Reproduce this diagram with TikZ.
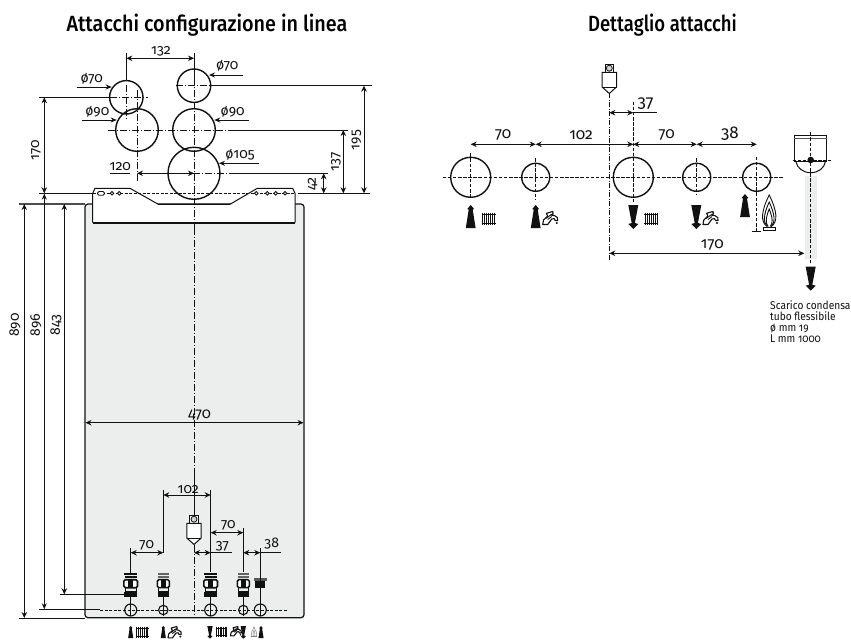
\documentclass[tikz,border=0pt]{standalone}
\usepackage{fontspec}
\setmainfont[Numbers=OldStyle]{Fira Sans}
\newfontfamily\titlefont[FakeStretch=0.9]{Fira Sans Medium}
\newfontfamily\titlefontb[FakeStretch=0.84]{Fira Sans Medium}
\newfontfamily\notefont[FakeStretch=0.9,Numbers=OldStyle]{Fira Sans}
\usetikzlibrary{arrows.meta}
\definecolor{panel}{HTML}{ECEEED}
\definecolor{ink}{HTML}{111111}
\tikzset{
  x=1pt,y=-1pt,
  line/.style={draw=ink,line width=1pt},
  ring/.style={draw=ink,line width=1.4pt},
  dim/.style={draw=ink,line width=1pt,{Stealth[length=6pt,width=5.5pt]}-{Stealth[length=6pt,width=5.5pt]}},
  onearrow/.style={draw=ink,line width=0.9pt,-{Stealth[length=6pt,width=5pt]}},
  centre/.style={draw=ink,line width=0.8pt,dash pattern=on 7pt off 2pt on 1pt off 2pt},
  fine/.style={draw=ink,line width=0.8pt,dash pattern=on 3.5pt off 1.6pt},
  lab/.style={inner sep=0pt,font=\fontsize{14}{15}\selectfont,text=ink},
  biglab/.style={inner sep=0pt,font=\fontsize{15.5}{16}\selectfont,text=ink},
  pics/uparrow/.style={code={
    \fill[ink] (0,0)--(3.4,4)--(2,4.6)--(4.9,23)--(-4.9,23)--(-2,4.6)--(-3.4,4)--cycle;}},
  pics/downarrow/.style={code={
    \fill[ink] (0,24)--(5,19)--(1.6,18)--(5,0)--(-5,0)--(-1.6,18)--(-5,19)--cycle;}},
  pics/radiator/.style={code={
    \foreach \u in {1,3,5,7,9,11,13}{\draw[ink,line width=.95pt] (\u,0)--(\u,12.5);}
    \draw[ink,line width=.8pt] (0,1.8)--(14,1.8) (0,10.5)--(14,10.5);}},
  pics/tap/.style={code={
    \draw[ink,line width=1.1pt,line join=round] (0,13)--(0.8,8.5)--(5,4.5)--(3.6,1.8)--(10,0)--(10.5,2.2)--(8,3.5)--(12,4.2)
      .. controls (15,5) and (15.4,7) .. (15,9)--(12.5,9) .. controls (12.5,7) and (11,6.5) .. (9,7.5)
      -- (5,13)--cycle;
    \draw[ink,line width=.9pt] (3,7)--(8,3.5) (5,8)--(9,5);
    \fill[ink] (14,11.5) circle (1.2);}},
  pics/flame/.style={code={
    \draw[ink,line width=.9pt] (-2,31.5) .. controls (-9,27) and (-8,16) .. (0,0) .. controls (8,16) and (9,27) .. (2,31.5);
    \draw[ink,line width=.9pt] (-2,31.5) .. controls (-6.5,27) and (-5.5,19) .. (0,7) .. controls (5.5,19) and (6.5,27) .. (2,31.5);
    \draw[ink,line width=.9pt] (-1,31.5) .. controls (-4,28) and (-3.5,23) .. (0,14) .. controls (3.5,23) and (4,28) .. (1,31.5);
    \draw[ink,line width=1pt] (-6,32) rectangle (6,35.4);}},
  pics/miniflame/.style={code={
    \draw[ink!55,line width=.5pt] (-2.4,9) .. controls (-3,5) and (-1.5,3) .. (0,0) .. controls (1.5,3) and (3,5) .. (2.4,9);
    \draw[ink!55,line width=.5pt] (-1,9) .. controls (-1.2,6) and (-.5,5) .. (0,3.5) .. controls (.5,5) and (1.2,6) .. (1,9);
    \draw[ink!55,line width=.5pt] (-2.6,9.3)--(2.6,9.3);}},
  pics/bigvalve/.style={code={
    \fill[ink] (-6.5,0) rectangle (6.5,2.3);
    \fill[ink] (-6.2,3.3) rectangle (6.2,5);
    \draw[ink,line width=1.6pt,rounded corners=1.5pt,fill=white] (-6.8,7) rectangle (6.8,15);
    \fill[ink] (-2.5,7) rectangle (2.5,15);
    \draw[ink,line width=1pt] (-5.5,15) rectangle (5.5,19);
    \fill[ink] (-6.5,19) rectangle (6.5,24);}},
  pics/smallvalve/.style={code={
    \fill[ink!65] (-5.5,0.5) rectangle (5.5,2.3);
    \fill[ink!65] (-5.2,3.3) rectangle (5.2,5);
    \draw[ink,line width=1.5pt,rounded corners=1.5pt,fill=white] (-6,7) rectangle (6,15);
    \fill[ink] (-2.2,7) rectangle (2.2,15);
    \draw[ink,line width=1pt] (-4.8,15) rectangle (4.8,19);
    \fill[ink] (-5.6,19) rectangle (5.6,24);}},
  pics/sensor/.style={code={
    \draw[ink,line width=.9pt,fill=white] (-4.2,0) rectangle (4.2,8.3);
    \draw[ink,line width=.8pt,fill=ink!18] (0,4.2) circle (3);
    \draw[ink,line width=1pt,fill=white] (-7.2,8.3)--(7.2,8.3)--(7.2,23)--(0,29.5)--(-7.2,23)--cycle;
    \draw[ink,line width=.9pt] (-7.2,23)--(7.2,23);}},
}
\begin{document}
\begin{tikzpicture}
\useasboundingbox (0,0) rectangle (851,642);
\fill[white] (0,0) rectangle (851,642);

% ---------- titles
\node[inner sep=0pt,font=\fontsize{22}{24}\titlefont,text=black] (t1) at (207,25) {Attacchi configurazione in linea};
\node[inner sep=0pt,font=\fontsize{22}{24}\titlefontb,text=black] (t2) at (662.5,25) {Dettaglio attacchi};

% ---------- boiler body
\draw[ink,line width=1.2pt,fill=panel,rounded corners=3pt] (85,204) rectangle (304,617.7);
% plate
\draw[ink,line width=1pt,fill=white,line join=round]
  (92.7,222.7)--(92.7,193.3)--(95,188.3)--(130,188.3)--(158.3,204.3)--(230,204.3)--(257.3,188.3)--(292.7,188.3)--(295,193.3)--(295,222.7);
\fill[ink] (92.7,221.5) rectangle (295,223.5);
\fill[ink] (92.7,222.7) rectangle (107,224);
\fill[ink] (283,222.7) rectangle (295,224);
% plate holes
\draw[fine,line width=.6pt,dash pattern=on 3pt off 1.5pt] (93,193.3)--(295,193.3);
\draw[ink,line width=.8pt,fill=white,rounded corners=1.5pt] (97.5,191.5) rectangle (104.5,195.2);
\foreach \u in {112,119.3,256.3,267.3,275.7,285}{\draw[ink,line width=.9pt,fill=white] (\u,193.3) circle (1.8);}

% ---------- top circles
\draw[ring] (126.3,97.3) circle (16.7);
\draw[ring] (137,130) circle (21.3);
\draw[ring] (194,85.7) circle (16.7);
\draw[ring] (194,130) circle (21.3);
\draw[ring] (194,173.3) circle (26);

% centre lines
\draw[line] (194,53)--(194,78);
\draw[centre] (194,78)--(194,222);
\draw[line] (194,222)--(194,228);
\draw[centre] (194,228)--(194,512);
\draw[line] (194,470)--(194,515);
\draw[centre] (194,545)--(194,615);
\draw[line] (126.3,60)--(126.3,81);
\draw[centre] (126.3,53)--(126.3,60);
\draw[centre] (126.3,85)--(126.3,120);
\draw[centre] (137,90)--(137,182);
\draw[centre] (176,85.7)--(212,85.7);
\draw[centre] (108,130)--(290,130);
\draw[centre] (110,97.3)--(148,97.3);
\draw[centre] (145,173.3)--(230,173.3);

% ---------- top dimension lines
\draw[line] (210,85.7)--(371.7,85.7);
\draw[line] (228,130)--(348,130);
\draw[line] (230,173.3)--(328,173.3);
\draw[line] (297.7,193.3)--(370,193.3);
\draw[line] (39.3,193.3)--(92.7,193.3);
\draw[line] (39.3,97.3)--(110,97.3);
\draw[line,draw=ink!75,line width=1.1pt] (19.3,204)--(85,204);
\draw[line] (110,173.3)--(130,173.3);

\draw[dim] (126.3,58.3)--(194,58.3);
\draw[dim] (44.3,97.3)--(44.3,193.3);
\draw[dim] (364,85.7)--(364,193.3);
\draw[dim] (343.3,130)--(343.3,193.3);
\draw[dim] (323.7,173.3)--(323.7,193.3);
\draw[dim] (137,173.3)--(194,173.3);
\draw[onearrow] (76.7,87)--(111.7,87);
\draw[onearrow] (82.3,120)--(116.7,120);
\draw[onearrow] (243,75)--(209,75);
\draw[onearrow] (249,120)--(214.3,120);
\draw[onearrow] (259,163.3)--(219,163.3);

\node[lab] (d132) at (161,51.5) {132};
\node[lab] (d70a) at (91.7,78.5) {ø70};
\node[lab] (d90a) at (97.3,111.5) {ø90};
\node[lab] (d70b) at (227.3,66) {ø70};
\node[lab] (d90b) at (232.7,111.5) {ø90};
\node[lab] (d105) at (240,155) {ø105};
\node[lab] (d120) at (120.3,167) {120};
\node[lab,rotate=90] (d170) at (36,150) {170};
\node[lab,rotate=90] (d195) at (356.5,140) {195};
\node[lab,rotate=90] (d137) at (336,161.7) {137};
\node[lab,rotate=90] (d42) at (312.7,184) {42};

% ---------- left long dimensions
\draw[line] (19.3,618)--(85,618);
\draw[line] (39.3,609.3)--(100,609.3);
\draw[line] (60,594.3)--(126,594.3);
\draw[dim] (24.3,204)--(24.3,618);
\draw[onearrow,{Stealth[length=6pt,width=5pt]}-{Stealth[length=6pt,width=5pt]}] (44.3,193.6)--(44.3,609.3);
\draw[dim] (64.3,204)--(64.3,594.3);
\node[lab,rotate=90] (d890) at (15,325) {890};
\node[lab,rotate=90] (d896) at (36,325) {896};
\node[lab,rotate=90] (d843) at (56,325) {843};

% 470
\draw[dim] (85.5,422.7)--(303.5,422.7);
\node[lab,font=\fontsize{15}{16}\selectfont] (d470) at (199.5,415) {470};

% ---------- bottom connections
\draw[fine,dash pattern=on 3pt off 1.6pt] (100,610)--(288.3,610);
\foreach \u/\r in {130.7/6,163.3/4.7,210.7/6,243.3/4.7,260.3/6}{
  \draw[ink,line width=.8pt] (\u,596)--(\u,616);
  \draw[ink,line width=1.1pt] (\u,610) circle (\r);
}
\pic at (130.7,572.7) {bigvalve};
\pic at (163.3,572.7) {smallvalve};
\pic at (210.7,572.7) {bigvalve};
\pic at (243.3,572.7) {smallvalve};
\fill[ink!70] (253.6,578.3) rectangle (267,580.7);
\fill[ink] (255.3,580.7) rectangle (265.3,588);

\draw[line] (130.7,548.3)--(130.7,572.7);
\draw[line] (163.3,490)--(163.3,552.7);
\draw[line] (210.7,490)--(210.7,571.7);
\draw[line] (243.3,528.3)--(243.3,571.7);
\draw[line] (260.3,548.3)--(260.3,600);
\draw[dim] (163.3,495)--(210.7,495);
\draw[dim] (130.7,552.7)--(163.3,552.7);
\draw[dim] (194,552.7)--(210.7,552.7);
\draw[line] (210.7,552.7)--(231.7,552.7);
\draw[dim] (210.7,532.7)--(243.3,532.7);
\draw[dim] (243.3,552.7)--(260.3,552.7);
\draw[line] (260.3,552.7)--(280.7,552.7);
\node[lab] (b102) at (188.3,489.3) {102};
\node[lab] (b70a) at (146.7,545) {70};
\node[lab] (b37) at (222.3,546) {37};
\node[lab] (b70b) at (228.3,525) {70};
\node[lab] (b38) at (271.7,544) {38};
\pic at (194,515) {sensor};

% bottom icons
\pic[scale=.53] at (130.7,626) {uparrow};
\pic[scale=.92] at (136,626.5) {radiator};
\pic[scale=.53] at (163.3,626) {uparrow};
\pic[scale=.88] at (168,626.5) {tap};
\pic[scale=.53] at (210,626) {downarrow};
\pic[scale=.82] at (216,626.5) {radiator};
\pic[scale=.72] at (230.5,626.5) {tap};
\pic[scale=.53] at (243.3,626) {downarrow};
\pic at (254,627) {miniflame};
\pic[scale=.53] at (261,626) {uparrow};

% ---------- detail of connections
\draw[fine] (442.7,177.3)--(783.3,177.3);
\foreach \u/\r/\a/\b in {470.7/20/153.3/196.7,535.7/14/158/200,696.7/14/158/195}{
  \draw[ring] (\u,177.3) circle (\r);
  \draw[fine] (\u,\a)--(\u,\b);
}
\draw[ring] (633.3,177.3) circle (20);
\draw[fine] (633.3,101.7)--(633.3,201.7);
\draw[ring] (756.7,177.3) circle (14);
\draw[fine] (756.7,156.7)--(756.7,231.7);
\draw[ink,line width=.8pt] (751.7,231.7)--(760.5,231.7);
\draw[centre,dash pattern=on 5pt off 1.5pt on 1pt off 1.5pt] (609.3,93)--(609.3,260);

\pic at (609.3,64) {sensor};

\draw[dim] (470.7,144.3)--(535.7,144.3);
\draw[dim] (535.7,144.3)--(633.3,144.3);
\draw[dim] (633.3,144.3)--(696.7,144.3);
\draw[dim] (696.7,144.3)--(756.7,144.3);
\draw[dim] (609.3,112.7)--(633.3,112.7);
\draw[line] (633.3,112.7)--(656.7,112.7);
\draw[dim] (609.3,253.3)--(804.3,253.3);
\node[biglab] (c70a) at (503.3,135) {70};
\node[biglab] (c102) at (581,135) {102};
\node[biglab] (c70b) at (666.7,135) {70};
\node[biglab,font=\fontsize{17}{18}\selectfont] (c38) at (730,134) {38};
\node[biglab,font=\fontsize{17}{18}\selectfont] (c37) at (645.5,104) {37};
\node[biglab] (c170) at (712.3,245) {170};

\pic at (470.7,205) {uparrow};
\pic at (535.7,205) {uparrow};
\pic at (633.3,205) {downarrow};
\pic at (696.3,205) {downarrow};
\pic at (745,194) {uparrow};
\pic at (481.7,212.7) {radiator};
\pic at (644.3,212.7) {radiator};
\pic at (542.7,211.5) {tap};
\pic at (703,211.5) {tap};
\pic at (769.2,195) {flame};

% drain trap
\fill[panel] (805,176) rectangle (816.7,259);
\draw[ink,line width=1pt] (794.3,135) rectangle (826.7,161.7);
\draw[ink!70,line width=.8pt] (794.3,138.3)--(826.7,138.3);
\draw[ink,line width=1pt] (796,161.7) .. controls (797,168) and (803,172.7) .. (810.7,172.7) .. controls (818.4,172.7) and (824.4,168) .. (825.4,161.7);
\draw[fine] (792.7,160)--(831,160);
\draw[fine] (810.7,132.3)--(810.7,263.3);
\fill[ink] (810.7,160) circle (3.3);
\pic at (810.7,266.7) {downarrow};

\node[inner sep=0pt,anchor=north west,align=left,text=ink,font=\fontsize{11.3}{11}\notefont] (note) at (770,300)
  {Scarico condensa\\tubo flessibile\\ø mm 19\\L mm 1000};
\end{tikzpicture}
\end{document}
